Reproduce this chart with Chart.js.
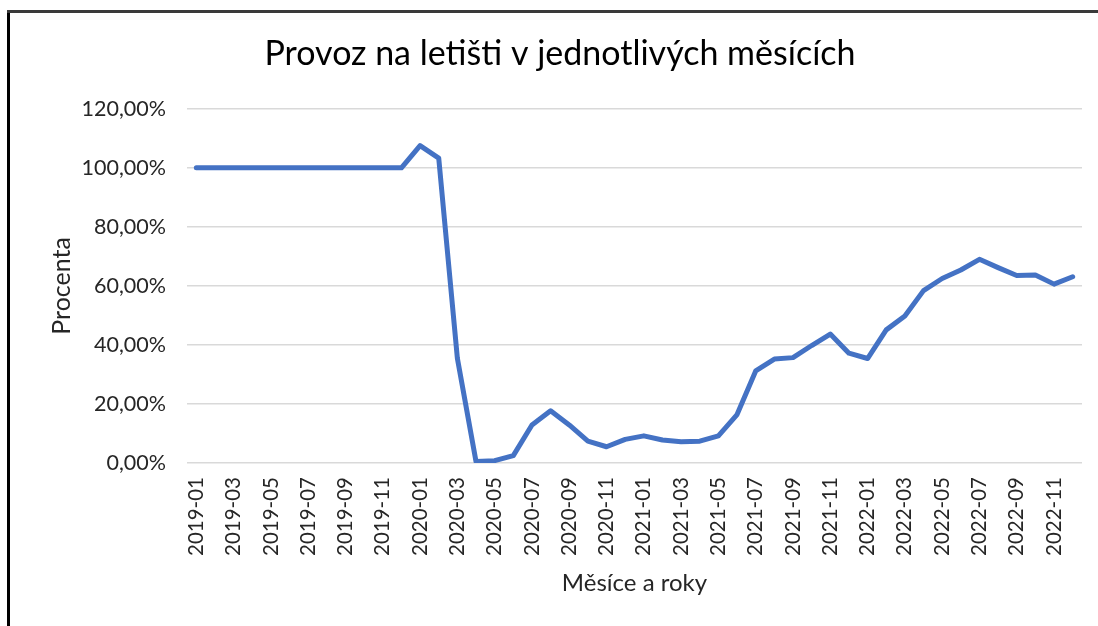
<!DOCTYPE html>
<html>
<head>
<meta charset="utf-8">
<script src="https://cdn.jsdelivr.net/npm/chart.js@4.4.1/dist/chart.umd.min.js"></script>
<style>
  html, body { margin: 0; padding: 0; background: #fff; }
  #wrap { position: relative; width: 1098px; height: 626px; overflow: hidden; }
  #frameLeft { position: absolute; left: 7px; top: 10px; width: 3px; height: 616px; background: #000; }
  #frameTop { position: absolute; left: 7px; top: 10px; width: 1091px; height: 3px; background: #3a3a3a; }
</style>
</head>
<body>
<div id="wrap">
  <canvas id="myChart" width="1098" height="626"></canvas>
  <div id="frameLeft"></div>
  <div id="frameTop"></div>
</div>
<script>
// months shown on the category axis
const months2019 = ["2019-01","2019-02","2019-03","2019-04","2019-05","2019-06","2019-07","2019-08","2019-09","2019-10","2019-11","2019-12"];
const months2020 = ["2020-01","2020-02","2020-03","2020-04","2020-05","2020-06","2020-07","2020-08","2020-09","2020-10","2020-11","2020-12"];
const months2021 = ["2021-01","2021-02","2021-03","2021-04","2021-05","2021-06","2021-07","2021-08","2021-09","2021-10","2021-11","2021-12"];
const months2022 = ["2022-01","2022-02","2022-03","2022-04","2022-05","2022-06","2022-07","2022-08","2022-09","2022-10","2022-11","2022-12"];

// traffic in percent of 2019 level
const values2019 = [100, 100, 100, 100, 100, 100, 100, 100, 100, 100, 100, 100];
const values2020 = [107.5, 103.3, 35.5, 0.5, 0.8, 2.5, 12.9, 17.7, 12.9, 7.4, 5.5, 8.0];
const values2021 = [9.2, 7.8, 7.2, 7.4, 9.2, 16.4, 31.2, 35.2, 35.7, 39.8, 43.7, 37.2];
const values2022 = [35.4, 45.1, 49.8, 58.4, 62.5, 65.4, 69.0, 66.2, 63.5, 63.7, 60.6, 63.1];

const yMin = 0;
const yMax = 120;
const yStep = 20;

const labels = months2019.concat(months2020, months2021, months2022);
const values = values2019.concat(values2020, values2021, values2022);

const textColor = "#262626";
const fontFamily = "Lato, 'Open Sans', sans-serif";

const trafficChart = new Chart("myChart", {
  type: "line",
  data: {
    labels: labels,
    datasets: [{
      data: values,
      borderColor: "#4472C4",
      borderWidth: 5,
      pointRadius: 0,
      tension: 0,
      borderCapStyle: "round",
      borderJoinStyle: "round",
      fill: false
    }]
  },
  options: {
    responsive: false,
    animation: false,
    layout: { padding: { left: 38, right: 16, top: 10, bottom: 0 } },
    plugins: {
      legend: { display: false },
      tooltip: { enabled: false },
      title: {
        display: true,
        text: "Provoz na letišti v jednotlivých měsících",
        color: "#000",
        font: { family: fontFamily, size: 34, weight: "normal", lineHeight: 1.2 },
        padding: { top: 24, bottom: 34 }
      }
    },
    scales: {
      x: {
        offset: true,
        grid: { display: false, drawTicks: false },
        border: { display: false },
        ticks: {
          autoSkip: false,
          maxRotation: 90,
          minRotation: 90,
          padding: 14,
          color: textColor,
          font: { family: fontFamily, size: 20.5 },
          callback: function(value, index) {
            return index % 2 === 0 ? this.getLabelForValue(value) : null;
          }
        },
        title: {
          display: true,
          text: "Měsíce a roky",
          color: textColor,
          font: { family: fontFamily, size: 24 },
          padding: { top: 0, bottom: 28 }
        },
        afterFit: function(scale) { scale.height = 163; }
      },
      y: {
        min: yMin,
        max: yMax,
        grid: { color: "#d9d9d9", lineWidth: 1.5, drawTicks: false },
        border: { display: false },
        ticks: {
          stepSize: yStep,
          padding: 21,
          color: textColor,
          font: { family: fontFamily, size: 21.5 },
          callback: function(v) { return v.toFixed(2).replace(".", ",") + "%"; }
        },
        title: {
          display: true,
          text: "Procenta",
          color: textColor,
          font: { family: fontFamily, size: 25 },
          padding: { top: 9, bottom: 0 }
        },
        afterFit: function(scale) { scale.width = 149; }
      }
    }
  }
});
</script>
</body>
</html>
